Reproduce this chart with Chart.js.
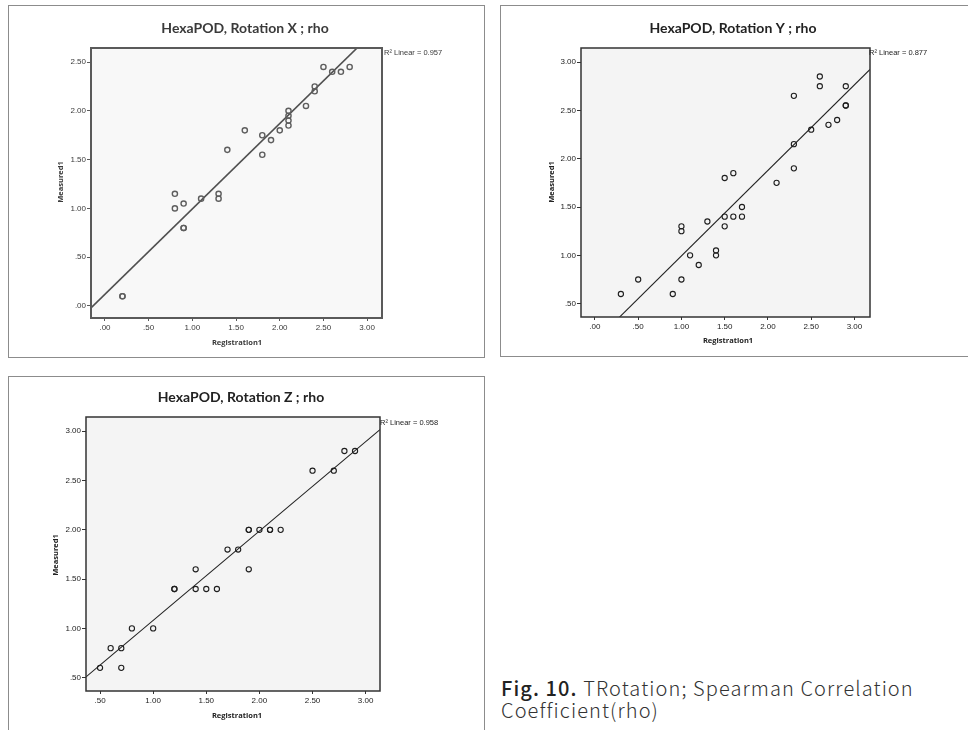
<!DOCTYPE html>
<html>
<head>
<meta charset="utf-8">
<title>HexaPOD Rotation; rho</title>
<script src="https://cdn.jsdelivr.net/npm/chart.js@4.4.0/dist/chart.umd.min.js"></script>
<style>
    html, body { margin: 0; padding: 0; background: #fff; }
    body { width: 968px; height: 730px; position: relative; overflow: hidden; }
    .panel { position: absolute; border: 1px solid #8c8c8c; box-sizing: border-box; background: #fff; }
    .panel canvas { position: absolute; left: -1px; top: -1px; }
    .caption {
        position: absolute; left: 501px; top: 677px;
        font-family: "Noto Sans CJK KR", "Noto Sans", sans-serif; font-weight: 300;
        font-size: 20px; line-height: 22px; letter-spacing: 1.1px; color: #333;
    }
    .caption b { font-weight: 500; color: #222; }
</style>
</head>
<body>

<div class="panel" style="left:8px;top:5px;width:477px;height:353px;"><canvas id="rot-x" width="477" height="353"></canvas></div>
<div class="panel" style="left:500px;top:5px;width:472px;height:352px;"><canvas id="rot-y" width="468" height="352"></canvas></div>
<div class="panel" style="left:8px;top:376px;width:477px;height:360px;"><canvas id="rot-z" width="477" height="354"></canvas></div>

<div class="caption"><b>Fig. 10.</b> TRotation; Spearman Correlation<br>Coefficient(rho)</div>

<script>
// --- data ---
// Rotation X
var regX  = [0.2, 0.2, 0.8, 0.8, 0.9, 0.9, 0.9, 1.1, 1.3, 1.3, 1.4, 1.6, 1.8, 1.8, 1.9, 2.0, 2.1, 2.1, 2.1, 2.1, 2.3, 2.4, 2.4, 2.5, 2.6, 2.7, 2.8];
var measX = [0.1, 0.1, 1.15, 1.0, 1.05, 0.8, 0.8, 1.1, 1.15, 1.1, 1.6, 1.8, 1.75, 1.55, 1.7, 1.8, 2.0, 1.95, 1.9, 1.85, 2.05, 2.25, 2.2, 2.45, 2.4, 2.4, 2.45];
var fitX  = [0.12, 0.875];   // intercept, slope
var r2X   = "0.957";

// Rotation Y
var regY  = [0.3, 0.5, 0.9, 1.0, 1.0, 1.0, 1.1, 1.2, 1.3, 1.4, 1.4, 1.5, 1.5, 1.5, 1.6, 1.6, 1.7, 1.7, 2.1, 2.3, 2.3, 2.3, 2.5, 2.6, 2.6, 2.7, 2.8, 2.9, 2.9, 2.9];
var measY = [0.6, 0.75, 0.6, 0.75, 1.3, 1.25, 1.0, 0.9, 1.35, 1.05, 1.0, 1.8, 1.4, 1.3, 1.85, 1.4, 1.5, 1.4, 1.75, 2.65, 2.15, 1.9, 2.3, 2.85, 2.75, 2.35, 2.4, 2.75, 2.55, 2.55];
var fitY  = [0.109, 0.885];
var r2Y   = "0.877";

// Rotation Z
var regZ  = [0.5, 0.6, 0.7, 0.7, 0.8, 1.0, 1.2, 1.2, 1.4, 1.4, 1.5, 1.6, 1.7, 1.8, 1.9, 1.9, 1.9, 2.0, 2.1, 2.1, 2.2, 2.5, 2.7, 2.8, 2.9];
var measZ = [0.6, 0.8, 0.8, 0.6, 1.0, 1.0, 1.4, 1.4, 1.6, 1.4, 1.4, 1.4, 1.8, 1.8, 2.0, 2.0, 1.6, 2.0, 2.0, 2.0, 2.0, 2.6, 2.6, 2.8, 2.8];
var fitZ  = [0.174, 0.907];
var r2Z   = "0.958";

// tick labels
var xTicksX = [0, 0.5, 1, 1.5, 2, 2.5, 3];
var yTicksX = [0, 0.5, 1, 1.5, 2, 2.5];
var xTicksY = [0, 0.5, 1, 1.5, 2, 2.5, 3];
var yTicksY = [0.5, 1, 1.5, 2, 2.5, 3];
var xTicksZ = [0.5, 1, 1.5, 2, 2.5, 3];
var yTicksZ = [0.5, 1, 1.5, 2, 2.5, 3];

!function () {
    "use strict";

    Chart.defaults.font.family = '"Liberation Sans", Arial, sans-serif';
    Chart.defaults.animation = false;

    // SPSS style: ".50", "1.00"
    function fmt(v) {
        var s = Number(v).toFixed(2);
        return s.charAt(0) === '0' ? s.slice(1) : s;
    }

    // plot fill, frame and all the text around the plot
    var panelDecor = {
        id: 'panelDecor',
        beforeDatasetsDraw: function (chart, args, o) {
            var a = chart.chartArea, ctx = chart.ctx;
            ctx.save();
            ctx.fillStyle = o.plotFill;
            ctx.fillRect(a.left, a.top, a.right - a.left, a.bottom - a.top);
            ctx.restore();
        },
        afterDraw: function (chart, args, o) {
            var a = chart.chartArea, ctx = chart.ctx;
            ctx.save();
            ctx.strokeStyle = o.frame;
            ctx.lineWidth = o.frameWidth;
            ctx.strokeRect(a.left, a.top, a.right - a.left, a.bottom - a.top);

            ctx.fillStyle = o.textColor;
            ctx.textAlign = 'center';
            ctx.textBaseline = 'middle';
            ctx.font = 'bold 14px Lato, "Open Sans", sans-serif';
            ctx.fillText(o.title, o.titlePos[0], o.titlePos[1]);

            ctx.font = 'bold 7.5px "Open Sans", sans-serif';
            ctx.fillText('Registration1', o.xTitlePos[0], o.xTitlePos[1]);
            ctx.save();
            ctx.translate(o.yTitlePos[0], o.yTitlePos[1]);
            ctx.rotate(-Math.PI / 2);
            ctx.fillText('Measured1', 0, 0);
            ctx.restore();

            ctx.textAlign = 'left';
            ctx.font = '7.5px "Liberation Sans", Arial, sans-serif';
            ctx.fillText('R\u00B2 Linear = ' + o.r2, o.r2Pos[0], o.r2Pos[1]);
            ctx.restore();
        }
    };

    function makePanel(p) {
        var canvas = document.getElementById(p.id);
        var W = canvas.width, H = canvas.height;
        var points = p.xs.map(function (x, i) { return {x: x, y: p.ys[i]}; });
        var fitLine = [p.xRange[0], p.xRange[1]].map(function (x) {
            return {x: x, y: p.fit[0] + p.fit[1] * x};
        });
        var tickFont = {size: 8};

        return new Chart(canvas.getContext('2d'), {
            type: 'scatter',
            data: {
                datasets: [{
                    data: points,
                    pointRadius: 2.6,
                    pointBorderWidth: p.pointWidth,
                    pointBorderColor: p.ink,
                    pointBackgroundColor: 'rgba(0,0,0,0)',
                    pointHoverRadius: 2.6
                }, {
                    data: fitLine,
                    showLine: true,
                    pointRadius: 0,
                    borderColor: p.lineColor,
                    borderWidth: p.lineWidth
                }]
            },
            plugins: [panelDecor],
            options: {
                responsive: false,
                layout: {
                    padding: {left: 0, top: p.plot[1], right: W - p.plot[2], bottom: 0}
                },
                plugins: {
                    legend: {display: false},
                    tooltip: {enabled: false},
                    panelDecor: {
                        plotFill: p.plotFill, frame: p.frame, frameWidth: p.frameWidth,
                        textColor: p.textColor, title: p.title, r2: p.r2,
                        titlePos: p.titlePos, r2Pos: p.r2Pos,
                        xTitlePos: p.xTitlePos, yTitlePos: p.yTitlePos
                    }
                },
                scales: {
                    x: {
                        type: 'linear', min: p.xRange[0], max: p.xRange[1],
                        afterFit: function (s) { s.height = H - p.plot[3]; },
                        afterBuildTicks: function (s) { s.ticks = p.xTicks.map(function (v) { return {value: v}; }); },
                        grid: {drawOnChartArea: false, drawTicks: true, tickLength: 3, color: p.frame},
                        border: {display: false},
                        ticks: {
                            color: p.textColor, font: tickFont, padding: 2,
                            maxRotation: 0, autoSkip: false, callback: fmt
                        }
                    },
                    y: {
                        type: 'linear', min: p.yRange[0], max: p.yRange[1],
                        afterFit: function (s) { s.width = p.plot[0]; },
                        afterBuildTicks: function (s) { s.ticks = p.yTicks.map(function (v) { return {value: v}; }); },
                        grid: {drawOnChartArea: false, drawTicks: true, tickLength: 4, color: p.frame},
                        border: {display: false},
                        ticks: {color: p.textColor, font: tickFont, padding: 1, autoSkip: false, callback: fmt}
                    }
                }
            }
        });
    }

    makePanel({
        id: 'rot-x', title: 'HexaPOD, Rotation X ; rho', r2: r2X,
        xs: regX, ys: measX, fit: fitX, xTicks: xTicksX, yTicks: yTicksX,
        xRange: [-0.16, 3.17], yRange: [-0.123, 2.644],
        plot: [83, 43, 374, 313],
        titlePos: [237, 23], r2Pos: [376, 48], xTitlePos: [229, 338], yTitlePos: [53, 177],
        ink: '#5e5e5e', pointWidth: 1.4, lineColor: '#505050', lineWidth: 1.6,
        plotFill: '#f8f8f8', frame: '#5a5a5a', frameWidth: 2, textColor: '#3a3a3a'
    });

    makePanel({
        id: 'rot-y', title: 'HexaPOD, Rotation Y ; rho', r2: r2Y,
        xs: regY, ys: measY, fit: fitY, xTicks: xTicksY, yTicks: yTicksY,
        xRange: [-0.161, 3.18], yRange: [0.362, 3.145],
        plot: [81, 43, 370, 312],
        titlePos: [233, 23], r2Pos: [369, 48], xTitlePos: [228, 336], yTitlePos: [52, 177],
        ink: '#1e1e1e', pointWidth: 1.1, lineColor: '#222', lineWidth: 1.1,
        plotFill: '#f4f4f4', frame: '#333', frameWidth: 1.5, textColor: '#222'
    });

    makePanel({
        id: 'rot-z', title: 'HexaPOD, Rotation Z ; rho', r2: r2Z,
        xs: regZ, ys: measZ, fit: fitZ, xTicks: xTicksZ, yTicks: yTicksZ,
        xRange: [0.368, 3.135], yRange: [0.365, 3.145],
        plot: [78, 41, 372, 315],
        titlePos: [233, 21], r2Pos: [372, 47], xTitlePos: [229, 340], yTitlePos: [48, 179],
        ink: '#1e1e1e', pointWidth: 1.1, lineColor: '#222', lineWidth: 1.1,
        plotFill: '#f4f4f4', frame: '#333', frameWidth: 1.5, textColor: '#222'
    });
}();
</script>
</body>
</html>
